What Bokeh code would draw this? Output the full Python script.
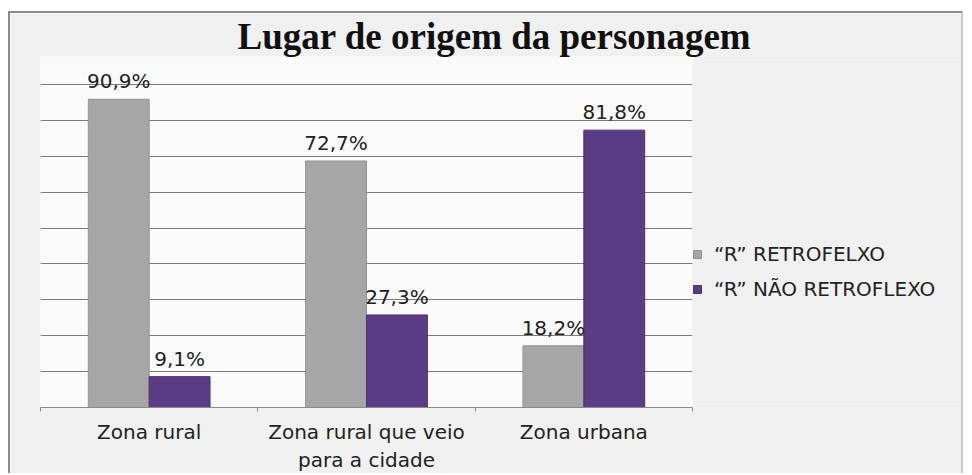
from bokeh.plotting import figure
from bokeh.models import (ColumnDataSource, Range1d, FixedTicker, Legend, LegendItem,
                          BoxAnnotation)
from bokeh.transform import dodge
from bokeh.core.properties import value
from bokeh.embed import file_html
from bokeh.resources import INLINE

# ---- data ----
categories = ["Zona rural", "Zona rural que veio\npara a cidade", "Zona urbana"]
retroflexo = [90.9, 72.7, 18.2]
nao_retroflexo = [9.1, 27.3, 81.8]
series_names = ["\u201cR\u201d RETROFELXO", "\u201cR\u201d N\u00c3O RETROFLEXO"]
title_text = "Lugar de origem da personagem"


def fmt(v):
    return ("%.1f" % v).replace(".", ",") + "%"


ncat = len(categories)
centers = [i + 0.5 for i in range(ncat)]

src = ColumnDataSource(dict(
    x=centers,
    r=retroflexo,
    n=nao_retroflexo,
    r_lab=[fmt(v) for v in retroflexo],
    n_lab=[fmt(v) for v in nao_retroflexo],
))

# ---- layout constants ----
CANVAS_W, CANVAS_H = 955, 462
LEFT, TOP, BOTTOM = 30, 43, 67
PLOT_W = 652                      # width of the category area in px
FRAME_W = CANVAS_W - LEFT
FRAME_H = CANVAS_H - TOP - BOTTOM
PX_PER_UNIT = 3.4
ymax = FRAME_H / PX_PER_UNIT
grid_step = 36 / PX_PER_UNIT
xmax = ncat * FRAME_W / PLOT_W
FONT = "DejaVu Sans"
FS = "20px"

p = figure(
    x_range=Range1d(0, xmax),
    y_range=Range1d(0, ymax),
    width=CANVAS_W, height=CANVAS_H,
    output_backend="svg", toolbar_location=None,
    min_border_left=LEFT, min_border_right=0,
    min_border_top=TOP, min_border_bottom=BOTTOM,
)
p.margin = (11, 0, 0, 8)
p.styles = {
    "border-top": "2px solid #8a8a8a",
    "border-left": "2px solid #8a8a8a",
    "border-right": "2px solid #c8c8c8",
}
p.background_fill_color = "#fafafa"
p.border_fill_color = "#f0f0f0"
p.outline_line_color = None

# title
p.title.text = title_text
p.title.text_font = "Liberation Serif"
p.title.text_font_style = "bold"
p.title.text_font_size = "37px"
p.title.text_color = "#111111"
p.title.align = "left"
p.title.offset = 197
p.title.standoff = 0

# grid
p.xgrid.grid_line_color = None
p.ygrid.ticker = FixedTicker(ticks=[grid_step * i for i in range(1, 10)])
p.ygrid.grid_line_color = "#7a7a7a"
p.ygrid.grid_line_width = 1
try:
    p.ygrid.cross_bounds = (0, ncat)
except Exception:
    pass

# area right of the categories (legend area)
p.add_layout(BoxAnnotation(left=ncat, fill_color="#f0f0f0", fill_alpha=1,
                           line_color=None, level="underlay"))

# axes
p.yaxis.visible = False
p.xaxis.ticker = FixedTicker(ticks=centers, minor_ticks=list(range(ncat + 1)))
p.xaxis.major_label_overrides = {c: lab for c, lab in zip(centers, categories)}
p.xaxis.bounds = (0, ncat)
p.xaxis.axis_line_color = "#8a8a8a"
p.xaxis.major_tick_line_color = None
p.xaxis.major_tick_out = 0
p.xaxis.major_tick_in = 0
p.xaxis.minor_tick_line_color = "#8a8a8a"
p.xaxis.minor_tick_out = 4
p.xaxis.minor_tick_in = 0
p.xaxis.major_label_standoff = 8
p.xaxis.major_label_text_font = FONT
p.xaxis.major_label_text_font_size = FS
p.xaxis.major_label_text_color = "#222222"

BW = 0.28
r1 = p.vbar(x=dodge("x", -BW / 2), top="r", width=BW, source=src,
            fill_color="#a6a6a6", line_color="#929292", line_width=1)
r2 = p.vbar(x=dodge("x", BW / 2), top="n", width=BW, source=src,
            fill_color="#5d3c87", line_color="#4a3268", line_width=1)

lab_kw = dict(text_font=value(FONT), text_font_size=FS, text_color="#222222",
              text_align="center", text_baseline="bottom", y_offset=-6, source=src)
p.text(x=dodge("x", -BW / 2), y="r", text="r_lab", **lab_kw)
p.text(x=dodge("x", BW / 2), y="n", text="n_lab", **lab_kw)

legend = Legend(items=[LegendItem(label=series_names[0], renderers=[r1]),
                       LegendItem(label=series_names[1], renderers=[r2])],
                location=(PLOT_W, 106))
legend.margin = 0
legend.padding = 5
legend.spacing = 11
legend.glyph_width = 10
legend.glyph_height = 10
legend.label_standoff = 12
legend.label_text_font = FONT
legend.label_text_font_size = FS
legend.label_text_color = "#222222"
legend.background_fill_alpha = 0
legend.border_line_color = None
p.add_layout(legend)

open("out.html", "w").write(file_html(p, INLINE))
